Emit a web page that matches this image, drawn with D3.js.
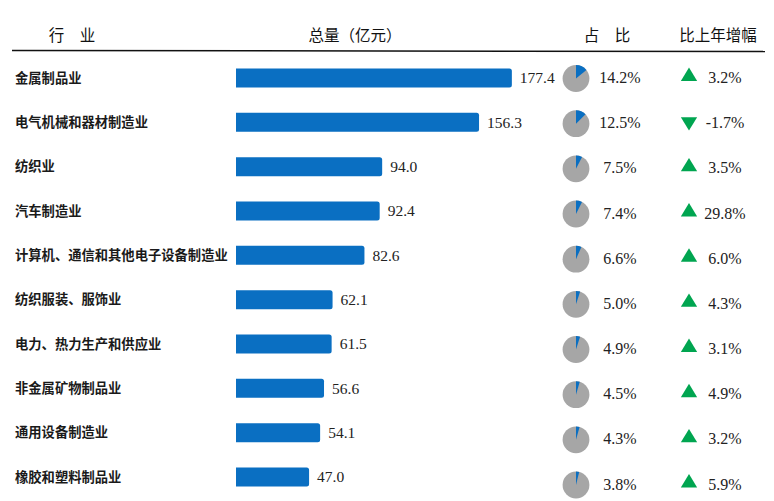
<!DOCTYPE html>
<html><head><meta charset="utf-8">
<script src="https://cdn.jsdelivr.net/npm/d3@7/dist/d3.min.js"></script>
<style>
html,body{margin:0;padding:0;background:#fff;}
svg{display:block;}
</style></head>
<body>
<svg id="chart" width="774" height="501"></svg>
<script>
const categories = ["金属制品业","电气机械和器材制造业","纺织业","汽车制造业","计算机、通信和其他电子设备制造业","纺织服装、服饰业","电力、热力生产和供应业","非金属矿物制品业","通用设备制造业","橡胶和塑料制品业"];
const totals = [177.4,156.3,94.0,92.4,82.6,62.1,61.5,56.6,54.1,47.0];
const shares = [14.2,12.5,7.5,7.4,6.6,5.0,4.9,4.5,4.3,3.8];
const growth = [3.2,-1.7,3.5,29.8,6.0,4.3,3.1,4.9,3.2,5.9];
const headers = ["行　业","总量（亿元）","占　比","比上年增幅"];

const svg = d3.select("#chart");
const BLUE = "#0a6fc2", GRAY = "#a6a6a6", GREEN = "#00a550";
const sans = "'Noto Sans CJK SC','Noto Sans',sans-serif";
const serif = "'Liberation Serif','DejaVu Serif',serif";

const idx = d3.range(categories.length);
const yL = d3.scalePoint().domain(idx).range([78, 477]);
const yR = d3.scalePoint().domain(idx).range([78.5, 485]);
const x = d3.scaleLinear().domain([0, 180]).range([236, 236 + 1.555 * 180]);

// header
const hx = [72, 355, 607, 718];
svg.selectAll("text.hdr").data(headers).join("text")
  .attr("class","hdr")
  .attr("x", (d,i)=>hx[i]).attr("y", 41)
  .attr("text-anchor","middle")
  .attr("font-family", sans).attr("font-size", 15.5).attr("fill","#111")
  .text(d=>d);
svg.append("line").attr("x1",12).attr("x2",765).attr("y1",50.5).attr("y2",51.5)
  .attr("stroke","#111").attr("stroke-width",1.5);

// category labels
svg.selectAll("text.cat").data(categories).join("text")
  .attr("class","cat")
  .attr("x",15).attr("y",(d,i)=>yL(i)).attr("dy","0.36em")
  .attr("font-family", sans).attr("font-size",13.3).attr("font-weight","bold").attr("fill","#1a1a1a")
  .text(d=>d);

// bars
const bh = 19;
svg.selectAll("path.bar").data(totals).join("path")
  .attr("class","bar")
  .attr("fill", BLUE)
  .attr("d",(d,i)=>{
    const x0 = x(0), x1 = x(d), y0 = yL(i)-bh/2, r = 2.5;
    return `M${x0},${y0}H${x1-r}Q${x1},${y0} ${x1},${y0+r}V${y0+bh-r}Q${x1},${y0+bh} ${x1-r},${y0+bh}H${x0}Z`;
  });
svg.selectAll("text.val").data(totals).join("text")
  .attr("class","val")
  .attr("x",d=>x(d)+8).attr("y",(d,i)=>yL(i)).attr("dy","0.35em")
  .attr("font-family", serif).attr("font-size",15.5).attr("fill","#222")
  .text(d=>d.toFixed(1));

// pies
const arc = d3.arc().innerRadius(0).outerRadius(13.4);
const pieG = svg.selectAll("g.pie").data(shares).join("g")
  .attr("class","pie")
  .attr("transform",(d,i)=>`translate(576,${yR(i)})`);
pieG.append("circle").attr("r",13.4).attr("fill",GRAY);
pieG.append("path").attr("fill",BLUE)
  .attr("d",d=>arc({startAngle:0,endAngle:2*Math.PI*d/100}));
svg.selectAll("text.share").data(shares).join("text")
  .attr("class","share")
  .attr("x",620).attr("y",(d,i)=>yR(i)-1).attr("dy","0.35em")
  .attr("text-anchor","middle")
  .attr("font-family", serif).attr("font-size",16).attr("fill","#222")
  .text(d=>d.toFixed(1)+"%");

// growth
const tri = d3.symbol().type(d3.symbolTriangle).size(115);
svg.selectAll("path.tri").data(growth).join("path")
  .attr("class","tri")
  .attr("fill",GREEN)
  .attr("transform",(d,i)=>`translate(689,${yR(i)-2}) ${d<0?"rotate(180)":""} scale(1,0.95)`)
  .attr("d",tri());
svg.selectAll("text.gr").data(growth).join("text")
  .attr("class","gr")
  .attr("x",725).attr("y",(d,i)=>yR(i)-1).attr("dy","0.35em")
  .attr("text-anchor","middle")
  .attr("font-family", serif).attr("font-size",16).attr("fill","#222")
  .text(d=>d.toFixed(1)+"%");
</script>
</body></html>
